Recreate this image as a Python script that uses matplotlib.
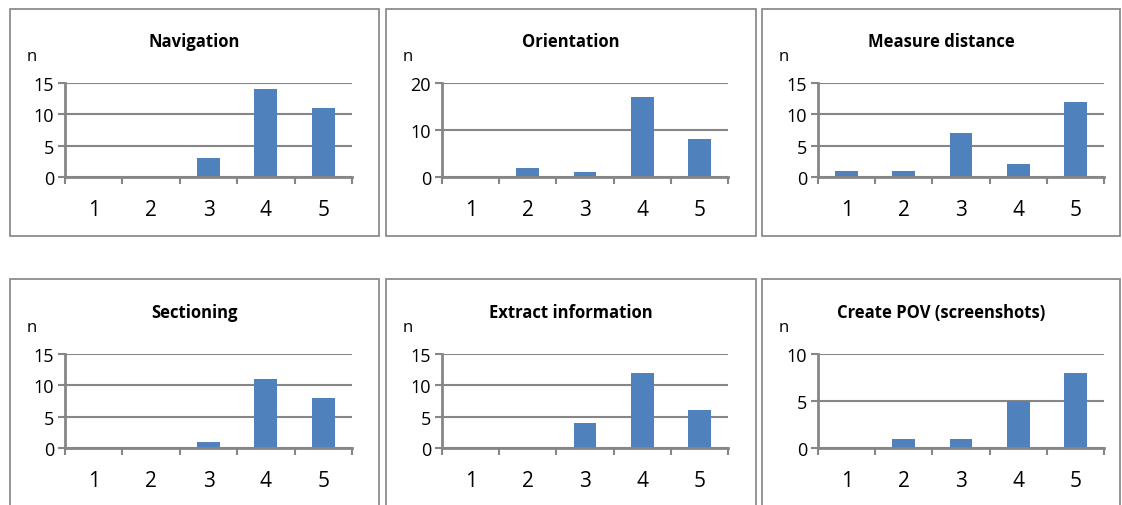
import matplotlib.pyplot as plt
from matplotlib.patches import Rectangle

categories = [1, 2, 3, 4, 5]

titles = ["Navigation", "Orientation", "Measure distance",
          "Sectioning", "Extract information", "Create POV (screenshots)"]

navigation = [0, 0, 3, 14, 11]
orientation = [0, 2, 1, 17, 8]
measure_distance = [1, 1, 7, 2, 12]
sectioning = [0, 0, 1, 11, 8]
extract_information = [0, 0, 4, 12, 6]
create_pov = [0, 1, 1, 5, 8]

series = [navigation, orientation, measure_distance,
          sectioning, extract_information, create_pov]
y_max = [15, 20, 15, 15, 15, 10]
y_step = [5, 10, 5, 5, 5, 5]

W, H = 1122, 506
plt.rcParams['font.family'] = ['Open Sans', 'DejaVu Sans']

fig = plt.figure(figsize=(W / 100, H / 100), dpi=100)

bar_color = "#4F81BD"
line_color = "#868686"

# panel boxes and plot areas in pixels
col_box = [(10, 379), (386, 756), (762, 1120)]
col_ax = [(65, 352), (442, 728), (818, 1104)]
row_box = [(10, 237), (280, 520)]
row_ax = [(84, 178), (355, 449)]  # top value line, zero line

for i, (vals, title) in enumerate(zip(series, titles)):
    r, c = divmod(i, 3)
    bx0, bx1 = col_box[c]
    by0, by1 = row_box[r]
    fig.add_artist(Rectangle((bx0 / W, 1 - by1 / H), (bx1 - bx0) / W, (by1 - by0) / H,
                             transform=fig.transFigure, fill=False,
                             edgecolor="#8c8c8c", linewidth=1.3, clip_on=False))

    ax0, ax1 = col_ax[c]
    yt, yb = row_ax[r]
    ax = fig.add_axes([ax0 / W, 1 - yb / H, (ax1 - ax0) / W, (yb - yt) / H])
    ax.bar(categories, vals, width=0.4, color=bar_color, zorder=3)
    ax.set_xlim(0.5, 5.5)
    ax.set_ylim(0, y_max[i])
    ax.set_yticks(range(0, y_max[i] + 1, y_step[i]))
    ax.set_xticks(categories)
    ax.set_xticks([0.5 + k for k in range(6)], minor=True)
    ax.tick_params(axis='x', which='major', length=0, labelsize=15, pad=16)
    ax.tick_params(axis='x', which='minor', length=5, width=1.5, color=line_color, direction='out')
    ax.tick_params(axis='y', length=5, width=1.5, color=line_color, labelsize=13, pad=3)
    ax.grid(axis='y', color=line_color, linewidth=1.5, zorder=0)
    for s in ['top', 'right']:
        ax.spines[s].set_visible(False)
    for s in ['left', 'bottom']:
        ax.spines[s].set_color(line_color)
        ax.spines[s].set_linewidth(2)
        ax.spines[s].set_zorder(4)

    fig.text((bx0 + bx1) / 2 / W, 1 - (yt - 42) / H, title, ha='center', va='center',
             fontsize=12, fontweight='bold')
    fig.text((bx0 + 22) / W, 1 - (yt - 27) / H, "n", ha='center', va='center', fontsize=12)

fig.savefig("out.png", dpi=100)
